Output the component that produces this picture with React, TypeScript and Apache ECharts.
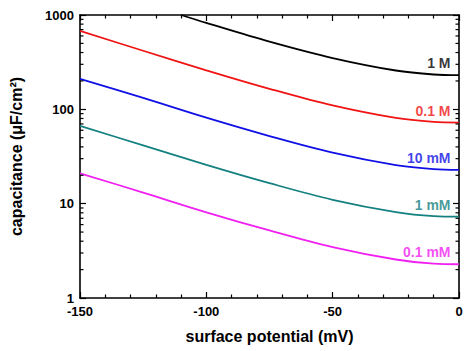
import React, { useEffect, useRef } from "react";
import * as echarts from "echarts";

const potentials = [-150, -125, -100, -75, -50, -25, -10, 0];
const potentials1M = [-110, -100, -75, -50, -25, -10, 0];

const cap1M = [1000, 825, 522, 350, 258, 234, 230];
const cap01M = [678, 418, 259, 165, 110, 81, 73.5, 72.3];
const cap10mM = [210, 132, 81.5, 52, 34.7, 25.6, 23.2, 22.8];
const cap1mM = [66.7, 41.5, 25.8, 16.5, 11.0, 8.15, 7.38, 7.28];
const cap01mM = [21, 13.1, 8.1, 5.2, 3.47, 2.56, 2.31, 2.28];

const seriesNames = ["1 M", "0.1 M", "10 mM", "1 mM", "0.1 mM"];
const minorYTicks = [2, 3, 4, 5, 6, 7, 8, 9, 20, 30, 40, 50, 60, 70, 80, 90, 200, 300, 400, 500, 600, 700, 800, 900];

const colors = ["#000000", "#f01414", "#1010e6", "#148080", "#f020f0"];
const FONT = "Liberation Sans, Arial, sans-serif";

export default function App() {
  const ref = useRef<HTMLDivElement>(null);
  useEffect(() => {
    if (!ref.current) return;
    const chart = echarts.init(ref.current, null, { renderer: "svg" });
    const xsList = [potentials1M, potentials, potentials, potentials, potentials];
    const valsList = [cap1M, cap01M, cap10mM, cap1mM, cap01mM];
    const lineSeries = valsList.map((vals, i) => ({
      type: "line",
      name: seriesNames[i],
      data: vals.map((v, j) => [xsList[i][j], v]),
      smooth: 0.35,
      showSymbol: false,
      symbol: "none",
      lineStyle: { color: colors[i], width: 1.8 },
      z: 3,
    }));
    const labelSeries = {
      type: "scatter",
      symbolSize: 1,
      itemStyle: { color: "rgba(0,0,0,0)" },
      silent: true,
      data: valsList.map((vals, i) => ({
        value: [0, vals[vals.length - 1]],
        label: {
          show: true,
          formatter: seriesNames[i],
          position: "left",
          distance: 4,
          offset: [-4, -12],
          color: colors[i],
          fontFamily: FONT,
          fontWeight: "bold",
          fontSize: 14,
        },
      })),
      z: 4,
    };
    const minorTickSeries = {
      type: "custom",
      silent: true,
      clip: false,
      data: minorYTicks.map((v) => [-150, v]),
      renderItem: (params: any, api: any) => {
        const v = api.value(1);
        const pl = api.coord([-150, v]);
        const pr = api.coord([0, v]);
        return {
          type: "group",
          children: [
            { type: "line", shape: { x1: pl[0], y1: pl[1], x2: pl[0] + 3.5, y2: pl[1] }, style: { stroke: "#000", lineWidth: 1.2 } },
            { type: "line", shape: { x1: pr[0], y1: pr[1], x2: pr[0] - 3.5, y2: pr[1] }, style: { stroke: "#000", lineWidth: 1.2 } },
          ],
        };
      },
      z: 5,
    };
    const axisLine = { show: true, onZero: false, lineStyle: { color: "#000", width: 1.6 } };
    const tick = { show: true, inside: true, length: 6, lineStyle: { color: "#000", width: 1.2 } };
    const minorTick = { show: true, splitNumber: 5, length: 3.5, lineStyle: { color: "#000", width: 1.2 } };
    const labelStyle = { color: "#000", fontFamily: FONT, fontWeight: "bold", fontSize: 13 };
    chart.setOption({
      animation: false,
      grid: { left: 75, right: 16, top: 15, bottom: 53 },
      xAxis: [
        {
          type: "value",
          min: -150,
          max: 0,
          interval: 50,
          axisLine,
          axisTick: tick,
          minorTick,
          splitLine: { show: false },
          axisLabel: { ...labelStyle, margin: 7 },
          name: "surface potential (mV)",
          nameLocation: "middle",
          nameGap: 30,
          nameTextStyle: { color: "#000", fontFamily: FONT, fontWeight: "bold", fontSize: 16 },
        },
        {
          type: "value",
          position: "top",
          min: -150,
          max: 0,
          interval: 50,
          axisLine,
          axisTick: tick,
          minorTick,
          splitLine: { show: false },
          axisLabel: { show: false },
        },
      ],
      yAxis: [
        {
          type: "log",
          logBase: 10,
          min: 1,
          max: 1000,
          axisLine,
          axisTick: tick,
          splitLine: { show: false },
          axisLabel: { ...labelStyle, margin: 6, formatter: (v: number) => String(v) },
          name: "capacitance (μF/cm²)",
          nameLocation: "middle",
          nameGap: 56,
          nameTextStyle: { color: "#000", fontFamily: FONT, fontWeight: "bold", fontSize: 16 },
        },
        {
          type: "log",
          logBase: 10,
          min: 1,
          max: 1000,
          position: "right",
          axisLine,
          axisTick: tick,
          splitLine: { show: false },
          axisLabel: { show: false },
        },
      ],
      series: [...lineSeries, labelSeries, minorTickSeries],
    });
    return () => chart.dispose();
  }, []);
  return (
    <div
      ref={ref}
      style={{ position: "fixed", left: 0, top: 0, width: 475, height: 351, background: "#fff" }}
    />
  );
}
